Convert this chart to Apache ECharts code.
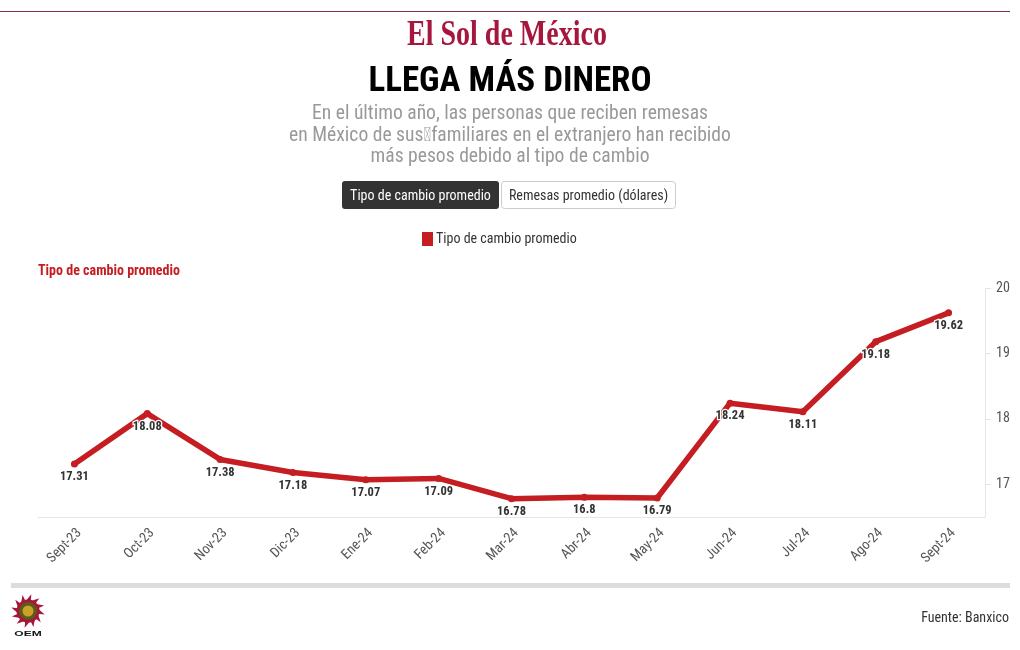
<!DOCTYPE html>
<html><head><meta charset="utf-8">
<style>html,body{margin:0;padding:0;background:#fff}#c{width:1020px;height:650px}</style>
<script src="https://cdn.jsdelivr.net/npm/echarts@6/dist/echarts.min.js"></script>
</head><body><div id="c"></div>
<script>
const categories=['Sept-23','Oct-23','Nov-23','Dic-23','Ene-24','Feb-24','Mar-24','Abr-24','May-24','Jun-24','Jul-24','Ago-24','Sept-24'];
const tipoDeCambio=[17.31,18.08,17.38,17.18,17.07,17.09,16.78,16.8,16.79,18.24,18.11,19.18,19.62];
const yTicks=[17,18,19,20];
const F='"Roboto Condensed","Liberation Sans Narrow",Roboto,sans-serif';
const RED='#c41e22';
const chart=echarts.init(document.getElementById('c'),null,{renderer:'canvas',width:1020,height:650});
const sunRays=[];
for(let i=0;i<12;i++){
 const a=i/12*Math.PI*2, d=0.28;
 sunRays.push({type:'polygon',shape:{points:[
  [28+Math.cos(a-d)*10,611+Math.sin(a-d)*10],
  [28+Math.cos(a+0.2)*17,611+Math.sin(a+0.2)*17],
  [28+Math.cos(a+d)*10,611+Math.sin(a+d)*10]]},style:{fill:'#a5173c'}});
}
chart.setOption({
 animation:false,
 textStyle:{fontFamily:F},
 title:[{text:'LLEGA MÁS DINERO',left:'center',top:60,textStyle:{fontFamily:F,fontSize:35,fontWeight:'bold',color:'#000'}}],
 legend:{top:227,left:417,data:['Tipo de cambio promedio'],icon:'rect',itemWidth:11,itemHeight:14,itemGap:3,textStyle:{fontFamily:F,fontSize:14,color:'#333',padding:[0,0,0,-2]},selectedMode:false},
 grid:{left:38,right:35,top:288,bottom:133,containLabel:false},
 xAxis:{type:'category',data:categories,boundaryGap:true,
  axisLine:{lineStyle:{color:'#e6e6e6'}},axisTick:{alignWithLabel:true,length:6,lineStyle:{color:'#e6e6e6'}},
  axisLabel:{rotate:45,fontSize:14,color:'#555',margin:9,interval:0,fontFamily:F,verticalAlign:'top'},splitLine:{show:false}},
 yAxis:{type:'value',position:'right',min:16.5,max:20,
  axisLine:{show:true,lineStyle:{color:'#e6e6e6'}},axisTick:{show:true,length:6,lineStyle:{color:'#e6e6e6'},customValues:yTicks},
  axisLabel:{fontSize:14,color:'#555',margin:11,customValues:yTicks,fontFamily:F,padding:[4,0,0,0]},splitLine:{show:false}},
 series:[{name:'Tipo de cambio promedio',type:'line',data:tipoDeCambio,color:RED,
  lineStyle:{width:5.5,color:RED,cap:'round',join:'round'},symbol:'circle',symbolSize:7,itemStyle:{color:RED},
  label:{show:true,position:'bottom',distance:3,fontFamily:F,fontSize:12.5,fontWeight:'bold',color:'#333',textBorderColor:'#fff',textBorderWidth:2.5}}],
 graphic:[
  {type:'rect',shape:{x:0,y:11,width:1010,height:1},style:{fill:'#8a2a4f'}},
  {type:'text',x:507,y:36,scaleX:0.8,style:{x:0,y:0,text:'El Sol de México',align:'center',verticalAlign:'middle',font:'bold 35px "Liberation Serif"',fill:'#a5173c'}},
  {type:'text',style:{x:510,y:114,text:'En el último año, las personas que reciben remesas',align:'center',verticalAlign:'middle',font:'19.6px '+F,fill:'#999'}},
  {type:'text',style:{x:510,y:136,text:'en México de sus\uE000familiares en el extranjero han recibido',align:'center',verticalAlign:'middle',font:'19.6px '+F,fill:'#999'}},
  {type:'text',style:{x:510,y:157,text:'más pesos debido al tipo de cambio',align:'center',verticalAlign:'middle',font:'19.6px '+F,fill:'#999'}},
  {type:'rect',shape:{x:342,y:181,width:157,height:28,r:3},style:{fill:'#333'}},
  {type:'text',style:{x:420.5,y:196,text:'Tipo de cambio promedio',align:'center',verticalAlign:'middle',font:'14px '+F,fill:'#fff'}},
  {type:'rect',shape:{x:501.5,y:181.5,width:174,height:27,r:3},style:{fill:'#fff',stroke:'#ccc',lineWidth:1}},
  {type:'text',style:{x:588.5,y:196,text:'Remesas promedio (dólares)',align:'center',verticalAlign:'middle',font:'14px '+F,fill:'#333'}},
  {type:'text',style:{x:38,y:271,text:'Tipo de cambio promedio',align:'left',verticalAlign:'middle',font:'bold 14px '+F,fill:RED}},
  {type:'rect',shape:{x:11,y:583,width:999,height:5},style:{fill:'#dcdcdc'}},
  ...sunRays,
  {type:'circle',shape:{cx:28,cy:611,r:11.5},style:{fill:'#a5173c'}},
  {type:'circle',shape:{cx:28,cy:611,r:9},style:{fill:'#5f5a1a'}},
  {type:'circle',shape:{cx:28,cy:611,r:5.5},style:{fill:'#c9a227'}},
  {type:'text',x:28,y:634,scaleX:1.5,style:{x:0,y:0,text:'OEM',align:'center',verticalAlign:'middle',font:'bold 8px "Liberation Sans"',fill:'#111'}},
  {type:'text',style:{x:1009,y:618,text:'Fuente: Banxico',align:'right',verticalAlign:'middle',font:'14px '+F,fill:'#333'}}
 ]
});
</script></body></html>
